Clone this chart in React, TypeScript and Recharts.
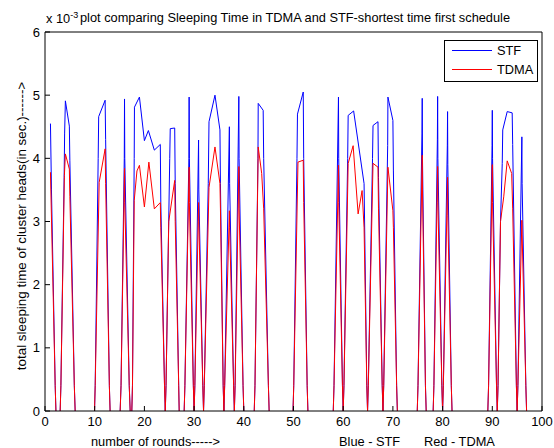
import React from 'react';
import { ComposedChart, Line, XAxis, YAxis } from 'recharts';

const xTicks = [0, 10, 20, 30, 40, 50, 60, 70, 80, 90, 100];
const yTicks = [0, 1, 2, 3, 4, 5, 6];

// STF (blue) humps: [round, sleeping time x1e-3 s]
const stfHumps: [number, number][][] = [
  [[1.1, 4.55], [1.3, 3.5], [2.05, 0.4], [2.2, 0]],
  [[3.05, 0], [3.2, 0.4], [3.85, 3.7], [3.95, 4.4], [4.1, 4.91], [4.9, 4.51], [5.0, 3.97], [5.9, 0.4], [6.07, 0]],
  [[9.96, 0], [10.1, 0.4], [10.7, 4.0], [10.8, 4.66], [12.1, 4.92], [12.2, 4.3], [12.95, 0.4], [13.1, 0]],
  [[15.12, 0], [15.3, 0.4], [15.95, 4.0], [16.0, 4.94], [16.05, 4.0], [16.95, 0.4], [17.14, 0]],
  [[17.47, 0], [17.6, 0.4], [17.95, 4.0], [18.0, 4.81], [19.0, 4.97], [20.0, 4.28], [20.8, 4.44], [22.0, 4.13], [23.2, 4.22], [23.3, 3.3], [24.05, 0.4], [24.2, 0]],
  [[24.2, 0], [24.35, 0.4], [25.1, 4.0], [25.2, 4.47], [26.1, 4.48], [26.2, 3.6], [26.9, 0.4], [27.0, 0]],
  [[28.0, 0], [28.15, 0.4], [28.95, 4.0], [29.0, 4.97], [29.05, 4.0], [29.85, 0.4], [30.0, 0]],
  [[30.0, 0], [30.15, 0.4], [30.9, 4.29], [30.95, 3.5], [31.75, 0.4], [31.9, 0]],
  [[31.9, 0], [32.05, 0.4], [32.85, 3.6], [33.0, 4.58], [34.2, 5.0], [35.2, 4.45], [35.3, 3.6], [35.85, 0.4], [36.0, 0]],
  [[36.0, 0], [36.15, 0.4], [37.1, 4.5], [37.15, 3.6], [37.95, 0.4], [38.1, 0]],
  [[38.1, 0], [38.25, 0.4], [39.0, 4.98], [39.05, 4.0], [39.85, 0.4], [40.0, 0]],
  [[42.1, 0], [42.25, 0.4], [42.85, 4.0], [42.9, 4.87], [43.9, 4.76], [44.0, 4.0], [44.95, 0.4], [45.1, 0]],
  [[49.9, 0], [50.05, 0.4], [50.7, 4.0], [50.8, 4.7], [51.96, 5.05], [52.05, 4.0], [52.75, 0.4], [52.9, 0]],
  [[58.0, 0], [58.15, 0.4], [59.05, 4.97], [59.1, 4.0], [59.85, 0.4], [60.0, 0]],
  [[60.0, 0], [60.15, 0.4], [60.9, 4.0], [61.0, 4.68], [62.1, 4.75], [64.2, 3.6], [64.75, 0.4], [64.9, 0]],
  [[64.9, 0], [65.05, 0.4], [65.9, 4.0], [66.0, 4.52], [67.0, 4.58], [67.1, 3.7], [67.85, 0.4], [68.0, 0]],
  [[68.0, 0], [68.15, 0.4], [68.95, 4.2], [69.0, 4.97], [70.0, 4.6], [70.1, 3.8], [70.75, 0.4], [70.9, 0]],
  [[74.9, 0], [75.05, 0.4], [75.85, 4.4], [75.9, 4.95], [75.95, 4.0], [76.55, 0.4], [76.7, 0]],
  [[78.1, 0], [78.25, 0.4], [78.95, 4.3], [79.0, 4.98], [79.05, 4.0], [79.85, 0.4], [80.0, 0]],
  [[80.0, 0], [80.15, 0.4], [80.95, 4.2], [81.0, 4.74], [81.05, 3.9], [81.75, 0.4], [81.9, 0]],
  [[89.1, 0], [89.25, 0.4], [89.95, 4.2], [90.0, 4.76], [90.05, 4.0], [90.85, 0.4], [91.0, 0]],
  [[91.0, 0], [91.15, 0.4], [91.65, 3.0], [92.0, 3.92], [92.1, 4.45], [93.0, 4.74], [94.0, 4.72], [94.1, 4.22], [94.85, 0.4], [95.0, 0]],
  [[95.0, 0], [95.15, 0.4], [95.95, 4.34], [96.0, 3.6], [96.75, 0.4], [96.9, 0]],
];

// TDMA (red) humps
const tdmaHumps: [number, number][][] = [
  [[1.1, 3.78], [2.05, 0.4], [2.2, 0]],
  [[3.05, 0], [3.2, 0.4], [3.9, 3.73], [4.1, 4.07], [4.9, 3.83], [5.0, 3.4], [5.9, 0.4], [6.07, 0]],
  [[9.96, 0], [10.1, 0.4], [10.9, 3.62], [12.1, 4.15], [12.2, 3.6], [12.95, 0.4], [13.1, 0]],
  [[15.12, 0], [15.3, 0.4], [16.0, 3.84], [16.05, 3.3], [16.95, 0.4], [17.14, 0]],
  [[17.47, 0], [17.6, 0.4], [17.95, 3.33], [18.5, 3.8], [19.0, 3.89], [20.0, 3.23], [20.9, 3.94], [22.0, 3.2], [23.2, 3.3], [23.3, 2.9], [24.05, 0.4], [24.2, 0]],
  [[24.2, 0], [24.35, 0.4], [24.9, 3.0], [26.1, 3.65], [26.2, 3.0], [26.9, 0.4], [27.0, 0]],
  [[28.0, 0], [28.15, 0.4], [29.0, 3.86], [29.05, 3.3], [29.85, 0.4], [30.0, 0]],
  [[30.0, 0], [30.15, 0.4], [30.9, 3.3], [30.95, 3.0], [31.75, 0.4], [31.9, 0]],
  [[31.9, 0], [32.05, 0.4], [33.0, 3.54], [34.2, 4.18], [35.2, 3.6], [35.3, 3.2], [35.85, 0.4], [36.0, 0]],
  [[36.0, 0], [36.15, 0.4], [37.1, 3.17], [37.15, 2.9], [37.95, 0.4], [38.1, 0]],
  [[38.1, 0], [38.25, 0.4], [39.0, 3.87], [39.05, 3.2], [39.85, 0.4], [40.0, 0]],
  [[42.1, 0], [42.25, 0.4], [42.9, 4.18], [43.6, 3.76], [44.0, 3.2], [44.95, 0.4], [45.1, 0]],
  [[49.9, 0], [50.05, 0.4], [50.9, 3.94], [51.96, 3.97], [52.05, 3.3], [52.75, 0.4], [52.9, 0]],
  [[58.0, 0], [58.15, 0.4], [59.05, 3.89], [59.1, 3.3], [59.85, 0.4], [60.0, 0]],
  [[60.0, 0], [60.15, 0.4], [61.0, 3.92], [62.0, 4.2], [63.0, 3.12], [63.8, 3.49], [64.2, 2.9], [64.75, 0.4], [64.9, 0]],
  [[64.9, 0], [65.05, 0.4], [66.0, 3.92], [67.0, 3.86], [67.1, 3.2], [67.85, 0.4], [68.0, 0]],
  [[68.0, 0], [68.15, 0.4], [69.0, 3.86], [70.0, 3.17], [70.1, 2.9], [70.75, 0.4], [70.9, 0]],
  [[74.9, 0], [75.05, 0.4], [75.9, 4.05], [75.95, 3.5], [76.55, 0.4], [76.7, 0]],
  [[78.1, 0], [78.25, 0.4], [79.0, 3.87], [79.05, 3.3], [79.85, 0.4], [80.0, 0]],
  [[80.0, 0], [80.15, 0.4], [81.0, 3.7], [81.05, 3.1], [81.75, 0.4], [81.9, 0]],
  [[89.1, 0], [89.25, 0.4], [90.0, 3.9], [90.05, 3.3], [90.85, 0.4], [91.0, 0]],
  [[91.0, 0], [91.15, 0.4], [91.65, 3.0], [92.3, 3.39], [93.0, 3.96], [93.9, 3.76], [94.1, 3.2], [94.85, 0.4], [95.0, 0]],
  [[95.0, 0], [95.15, 0.4], [95.95, 3.02], [96.0, 2.8], [96.75, 0.4], [96.9, 0]],
];

type Row = { x: number; y: number | null };
const toRows = (humps: [number, number][][]): Row[] =>
  humps.flatMap((h) => [
    ...h.map(([x, y]) => ({ x, y })),
    { x: h[h.length - 1][0] + 0.001, y: null },
  ]);

const stfRows = toRows(stfHumps);
const tdmaRows = toRows(tdmaHumps);

const FONT = '"Liberation Sans", Arial, Helvetica, sans-serif';
const txt: React.CSSProperties = {
  position: 'absolute',
  fontFamily: FONT,
  fontSize: 12.8,
  color: '#000',
  whiteSpace: 'nowrap',
  lineHeight: '14px',
};

export default function App() {
  return (
    <div style={{ position: 'absolute', left: 0, top: 0, width: 554, height: 448, background: '#fff', overflow: 'hidden' }}>
      <ComposedChart width={554} height={448} margin={{ top: 0, right: 0, bottom: 0, left: 0 }}>
        <XAxis
          xAxisId="b"
          dataKey="x"
          type="number"
          domain={[0, 100]}
          ticks={xTicks}
          interval={0}
          height={37}
          tickSize={-5}
          tickMargin={11}
          stroke="#000"
          tick={{ fill: '#000', fontSize: 13, fontFamily: FONT }}
          allowDataOverflow
        />
        <XAxis
          xAxisId="t"
          orientation="top"
          dataKey="x"
          type="number"
          domain={[0, 100]}
          ticks={xTicks}
          interval={0}
          height={32}
          tickSize={-5}
          tick={false}
          stroke="#000"
          allowDataOverflow
        />
        <YAxis
          yAxisId="l"
          type="number"
          domain={[0, 6]}
          ticks={yTicks}
          interval={0}
          width={45}
          tickSize={-5}
          tickMargin={10}
          stroke="#000"
          tick={{ fill: '#000', fontSize: 13, fontFamily: FONT }}
          allowDataOverflow
        />
        <YAxis
          yAxisId="r"
          orientation="right"
          type="number"
          domain={[0, 6]}
          ticks={yTicks}
          interval={0}
          width={12}
          tickSize={-5}
          tick={false}
          stroke="#000"
          allowDataOverflow
        />
        <Line
          xAxisId="b"
          yAxisId="l"
          data={stfRows}
          dataKey="y"
          type="linear"
          stroke="#0000ff"
          strokeWidth={1}
          dot={false}
          isAnimationActive={false}
        />
        <Line
          xAxisId="t"
          yAxisId="r"
          data={tdmaRows}
          dataKey="y"
          type="linear"
          stroke="#ff0000"
          strokeWidth={1}
          dot={false}
          isAnimationActive={false}
        />
      </ComposedChart>

      <div style={{ ...txt, left: 46, top: 12 }}>
        x 10<sup style={{ fontSize: 9, verticalAlign: 'top', position: 'relative', top: -4 }}>-3</sup>
      </div>
      <div style={{ ...txt, left: 80, top: 11 }}>
        plot comparing Sleeping Time in TDMA and STF-shortest time first schedule
      </div>

      <div
        style={{
          ...txt,
          fontSize: 13.4,
          left: 22,
          top: 226,
          transform: 'translate(-50%, -50%) rotate(-90deg)',
        }}
      >
        total sleeping time of cluster heads(in sec.)------&gt;
      </div>

      <div style={{ ...txt, left: 91, top: 435 }}>number of rounds-----&gt;</div>
      <div style={{ ...txt, left: 339, top: 435 }}>Blue - STF</div>
      <div style={{ ...txt, left: 424, top: 435 }}>Red - TDMA</div>

      <div
        style={{
          position: 'absolute',
          left: 444,
          top: 40,
          width: 92,
          height: 40,
          border: '1px solid #000',
          background: '#fff',
        }}
      >
        <div style={{ position: 'absolute', left: 7, top: 9, width: 40, height: 1, background: '#0000ff' }} />
        <div style={{ ...txt, left: 52, top: 3 }}>STF</div>
        <div style={{ position: 'absolute', left: 7, top: 28, width: 40, height: 1, background: '#ff0000' }} />
        <div style={{ ...txt, left: 52, top: 22 }}>TDMA</div>
      </div>
    </div>
  );
}
